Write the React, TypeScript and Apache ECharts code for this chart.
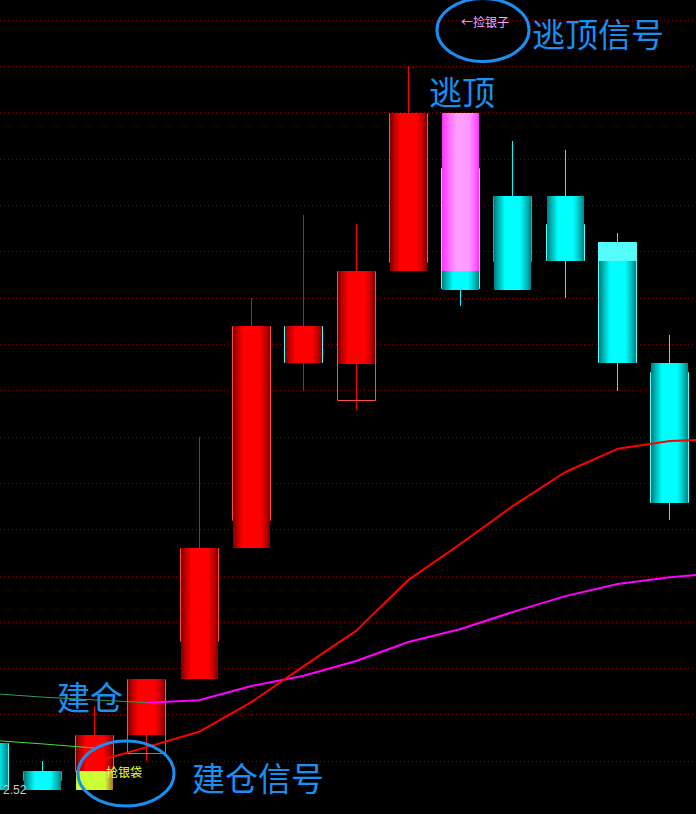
import React, { useEffect, useRef } from 'react';
import * as echarts from 'echarts';

// ---- data (prices) ----
const categories = ['1', '2', '3', '4', '5', '6', '7', '8', '9', '10', '11', '12', '13', '14', '15'];

// K-line (the thin hollow / solid candles)
const openPrices = [2.639, 2.557, 2.578, 2.617, 2.857, 3.118, 3.539, 3.378, 3.677, 3.88, 3.677, 3.76, 3.721, 3.44];
const closePrices = [2.537, 2.578, 2.657, 2.778, 3.06, 3.539, 3.459, 3.659, 4.0, 3.618, 3.82, 3.68, 3.459, 3.157];
const lowPrices = [2.537, 2.557, 2.578, 2.6, 2.857, 3.118, 3.399, 3.361, 3.677, 3.582, 3.677, 3.6, 3.399, 3.12];
const highPrices = [2.639, 2.6, 2.719, 2.778, 3.3, 3.6, 3.779, 3.76, 4.101, 3.88, 3.939, 3.919, 3.74, 3.52];
const firstPrevClose = 2.639;
// trend colour of the thick bar (1 = red trend, 0 = cyan trend)
const trendUp = [0, 0, 1, 1, 1, 1, 1, 1, 1, 0, 0, 0, 0, 0];

// signal bars
const signalIndex = [2, 9];
const signalFrom = [2.537, 3.659];
const signalTo = [2.578, 4.0];
const signalKind = ['buy', 'top'];

// moving-average lines
const maLongFalling = [2.746, 2.738, 2.732, 2.726, null, null, null, null, null, null, null, null, null, null, null];
const maLongRising = [null, null, null, 2.726, 2.731, 2.762, 2.784, 2.816, 2.857, 2.885, 2.922, 2.956, 2.982, 2.997, 3.006];
const maShortFalling = [2.645, 2.637, 2.628, null, null, null, null, null, null, null, null, null, null, null, null];
const maShortRising = [null, null, 2.598, 2.63, 2.663, 2.727, 2.805, 2.881, 2.991, 3.069, 3.151, 3.224, 3.274, 3.291, 3.295];

const lowestLabel = '2.52';

// visible window of the time axis (in bar indices)
const xWindowMin = 0.197;
const xWindowMax = 13.497;

// ---- styles ----
const grad = (stops: [number, string][]) =>
  new echarts.graphic.LinearGradient(0, 0, 1, 0, stops.map(([offset, color]) => ({ offset, color })));

const redFill = () =>
  grad([[0, '#7a0000'], [0.12, '#c00000'], [0.28, '#ff0000'], [0.72, '#ff0000'], [0.88, '#c40000'], [1, '#780000']]);
const cyanFill = () =>
  grad([[0, '#007a7a'], [0.12, '#00b4b4'], [0.3, '#00ffff'], [0.7, '#00ffff'], [0.88, '#00bcbc'], [1, '#007f7f']]);
const magentaFill = () =>
  grad([[0, '#ff30ff'], [0.2, '#ff70ff'], [0.4, '#ffa0ff'], [0.72, '#ff99ff'], [0.9, '#ff60ff'], [1, '#ff30ff']]);
const yellowFill = () =>
  grad([[0, '#c8f030'], [0.05, '#ccff33'], [0.78, '#ccff33'], [0.9, '#b8b030'], [1, '#9a7a28']]);

const BLUE = '#1a8ff0';

const toPairs = (vals: (number | null)[]) =>
  vals.map((v, i) => (v == null ? null : [i, v])).filter((p) => p !== null) as number[][];

export default function App() {
  const ref = useRef<HTMLDivElement>(null);

  useEffect(() => {
    document.body.style.margin = '0';
    document.body.style.background = '#000';
    if (!ref.current) return;
    const chart = echarts.init(ref.current, null, { renderer: 'svg' });

    const candleData = openPrices.map((o, i) => [
      i,
      o,
      closePrices[i],
      lowPrices[i],
      highPrices[i],
      i === 0 ? firstPrevClose : closePrices[i - 1],
      trendUp[i],
    ]);

    const signalData = signalIndex.map((idx, k) => [idx, signalFrom[k], signalTo[k]]);

    const renderCandle = (params: any, api: any) => {
      const idx = api.value(0);
      const o = api.value(1);
      const c = api.value(2);
      const l = api.value(3);
      const h = api.value(4);
      const pf = api.value(5);
      const up = api.value(6);
      const cx = api.coord([idx, c])[0];
      const band = api.size([1, 0])[0];
      const yO = api.coord([idx, o])[1];
      const yC = api.coord([idx, c])[1];
      const yL = api.coord([idx, l])[1];
      const yH = api.coord([idx, h])[1];
      const yF = api.coord([idx, pf])[1];
      const outlineW = Math.round(band * 0.745);
      const fillW = Math.round(band * 0.707);
      const trendColor = up ? '#ff0000' : '#00ffff';
      const rising = c >= o;
      const wx = Math.floor(cx) + 0.5;
      const ox = Math.round(cx - outlineW / 2) + 0.5;
      const fx = Math.round(cx - fillW / 2);
      return {
        type: 'group',
        children: [
          {
            type: 'line',
            shape: { x1: wx, y1: Math.round(yH), x2: wx, y2: Math.round(yL) },
            style: { stroke: trendColor, lineWidth: 1 },
          },
          {
            type: 'rect',
            shape: {
              x: ox,
              y: Math.round(Math.min(yO, yC)) + 0.5,
              width: outlineW - 1,
              height: Math.max(Math.round(Math.abs(yO - yC)) - 1, 1),
            },
            style: rising
              ? { fill: 'none', stroke: '#ff4a4a', lineWidth: 1 }
              : { fill: '#54fcfc', stroke: '#54fcfc', lineWidth: 1 },
          },
          {
            type: 'rect',
            shape: {
              x: fx,
              y: Math.round(Math.min(yF, yC)),
              width: fillW,
              height: Math.max(Math.round(Math.abs(yF - yC)), 1),
            },
            style: { fill: up ? redFill() : cyanFill() },
          },
        ],
      };
    };

    const renderSignal = (params: any, api: any) => {
      const idx = api.value(0);
      const a = api.value(1);
      const b = api.value(2);
      const cx = api.coord([idx, a])[0];
      const band = api.size([1, 0])[0];
      const ya = api.coord([idx, a])[1];
      const yb = api.coord([idx, b])[1];
      const fillW = Math.round(band * 0.707);
      const kind = signalKind[params.dataIndex];
      return {
        type: 'rect',
        shape: {
          x: Math.round(cx - fillW / 2),
          y: Math.round(Math.min(ya, yb)),
          width: fillW,
          height: Math.round(Math.abs(ya - yb)),
        },
        style: { fill: kind === 'buy' ? yellowFill() : magentaFill() },
      };
    };

    const lineSeries = (data: (number | null)[], color: string, width: number) => ({
      type: 'line',
      data: toPairs(data),
      symbol: 'none',
      showSymbol: false,
      clip: false,
      z: 5,
      lineStyle: { color, width },
      emphasis: { disabled: true },
    });

    const textEl = (text: string, x: number, y: number, color: string, size: number, family: string) => ({
      type: 'text',
      z: 101,
      x,
      y,
      silent: true,
      style: {
        text,
        fill: color,
        fontSize: size,
        fontFamily: family,
        textVerticalAlign: 'middle',
      },
    });

    chart.setOption({
      animation: false,
      backgroundColor: '#000000',
      grid: { left: 0, right: 0, top: 20, bottom: 53, containLabel: false },
      xAxis: {
        type: 'value',
        min: xWindowMin,
        max: xWindowMax,
        axisLine: { show: false },
        axisTick: { show: false },
        axisLabel: { show: false },
        splitLine: { show: false },
      },
      yAxis: {
        type: 'value',
        min: 2.6,
        max: 4.2,
        interval: 0.1,
        axisLine: { show: false },
        axisTick: { show: false },
        axisLabel: { show: false },
        splitLine: { show: true, lineStyle: { color: '#840000', width: 1, type: [1, 3] } },
      },
      series: [
        {
          type: 'custom',
          name: categories.join(','),
          data: candleData,
          renderItem: renderCandle,
          clip: false,
          z: 2,
          encode: { x: 0, y: [1, 2, 3, 4] },
        },
        {
          type: 'custom',
          data: signalData,
          renderItem: renderSignal,
          clip: false,
          z: 3,
          encode: { x: 0, y: [1, 2] },
        },
        lineSeries(maLongFalling, '#2e9e5a', 1),
        lineSeries(maLongRising, '#ff00ff', 2),
        lineSeries(maShortFalling, '#3ee03e', 1),
        lineSeries(maShortRising, '#ff0000', 2),
      ],
      graphic: [
        {
          type: 'ellipse',
          z: 100,
          silent: true,
          shape: { cx: 483, cy: 30, rx: 46, ry: 31.5 },
          style: { fill: 'none', stroke: BLUE, lineWidth: 3 },
        },
        {
          type: 'ellipse',
          z: 100,
          silent: true,
          shape: { cx: 126, cy: 773.5, rx: 48, ry: 32.5 },
          style: { fill: 'none', stroke: BLUE, lineWidth: 3 },
        },
        textEl('←捡银子', 461, 21, '#ffa8ff', 12, '"Noto Sans CJK SC", sans-serif'),
        textEl('抢银袋', 106, 771, '#f0ff40', 12, '"Noto Sans CJK SC", sans-serif'),
        textEl('逃顶信号', 532, 33, BLUE, 33, '"Noto Sans CJK SC", sans-serif'),
        textEl('逃顶', 429, 91, BLUE, 33, '"Noto Sans CJK SC", sans-serif'),
        textEl('建仓', 57, 696, BLUE, 33, '"Noto Sans CJK SC", sans-serif'),
        textEl('建仓信号', 192, 777, BLUE, 33, '"Noto Sans CJK SC", sans-serif'),
        textEl(lowestLabel, 3, 790, '#c8c8c8', 12, '"Liberation Sans", Arial, sans-serif'),
      ],
    });

    return () => chart.dispose();
  }, []);

  return <div ref={ref} style={{ width: 696, height: 814 }} />;
}
